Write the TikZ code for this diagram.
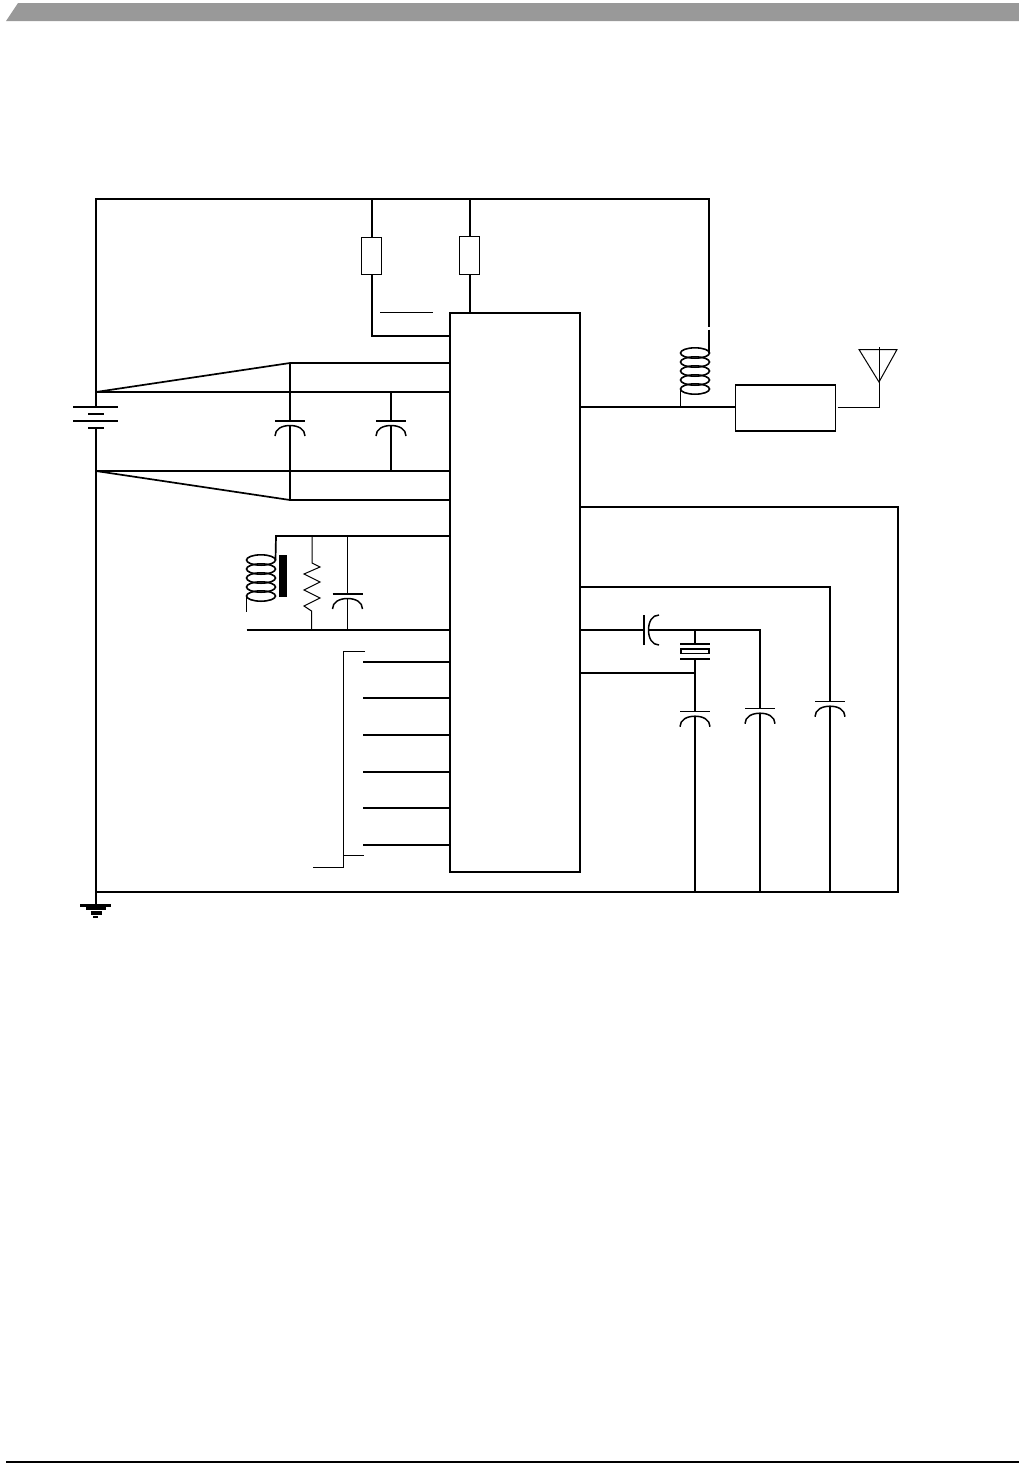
\documentclass[tikz,border=0pt]{standalone}
\usepackage{amsmath, amsthm, amssymb}
\usepackage{color}
\definecolor{bannerGray}{HTML}{999999}
\tikzset{
  capPic/.pic={
    \draw[line width=1.5pt] (-15,0) -- (15,0);
    \draw[line width=1.5pt] (-15,15) .. controls (-15,8) and (-8,4.5) .. (0,4.5) .. controls (8,4.5) and (15,8) .. (15,15);
    \coordinate (-top) at (0,0);
    \coordinate (-bot) at (0,4.5);
  },
  coilPic/.pic={
    \foreach \yy in {0,9,18,27,36} \draw[line width=1.6pt] (0,\yy) ellipse (14.5 and 5.2);
    \coordinate (-up) at (14.5,0);
    \coordinate (-low) at (-14.5,36);
  }
}
\begin{document}
\begin{tikzpicture}[x=1pt,y=-1pt]
\tikzstyle{wireStyle}=[line width=1.7pt]
\tikzstyle{thinStyle}=[line width=1pt]
\tikzstyle{boxStyle}=[shape=rectangle, draw, line width=1pt, inner sep=0pt]
\useasboundingbox (0,0) rectangle (1019,1470);
\fill[bannerGray] (6,21) -- (18,3) -- (1019,3) -- (1019,21) -- cycle;
\coordinate (footL) at (6,1462);
\coordinate (footR) at (1019,1462);
\draw[line width=1.2pt] (footL) -- (footR);
% main parts
\node[boxStyle, line width=1.7pt, minimum width=130pt, minimum height=559pt] (ic) at (515,592.5) {};
\node[boxStyle, minimum width=20pt, minimum height=37pt] (r1) at (371,255.5) {};
\node[boxStyle, minimum width=20pt, minimum height=38pt] (r2) at (469,255) {};
\node[boxStyle, line width=1.2pt, minimum width=100.5pt, minimum height=46pt] (filter) at (785.5,408) {};
\node[shape=rectangle, fill, inner sep=0pt, minimum width=8pt, minimum height=42pt] (core) at (283,576) {};
\node[shape=rectangle, draw, line width=1.5pt, inner sep=0pt, minimum width=28pt, minimum height=4.5pt] (xtal) at (695,651) {};
% rails and corners
\coordinate (tl) at (96,199);
\coordinate (tr1) at (372,199);
\coordinate (tr2) at (470,199);
\coordinate (tr) at (709,199);
\coordinate (batTop) at (96,407);
\coordinate (batBot) at (96,428);
\coordinate (bl) at (96,892);
\coordinate (br) at (898,892);
\coordinate (gnd) at (96,905);
\coordinate (vA) at (96,392);
\coordinate (vB) at (96,471);
\coordinate (fA) at (290,363);
\coordinate (fB) at (290,392);
\coordinate (fC) at (290,471);
\coordinate (fD) at (290,500);
\coordinate (gA) at (391,392);
\coordinate (gB) at (391,471);
% pins of the chip
\coordinate (pA) at (450,363);
\coordinate (pB) at (450,392);
\coordinate (pC) at (450,471);
\coordinate (pD) at (450,500);
\coordinate (pE) at (450,536);
\coordinate (pF) at (450,630);
\coordinate (pG) at (450,336);
\coordinate (qA) at (580,407);
\coordinate (qB) at (580,507);
\coordinate (qC) at (580,587);
\coordinate (qD) at (580,630);
\coordinate (qE) at (580,673);
% rails
\draw[wireStyle] (bl) -- (br) -- (898,507) -- (qB);
\draw[wireStyle] (gnd) -- (batBot);
\draw[wireStyle] (batTop) -- (tl) -- (tr) -- (709,327);
\draw[wireStyle] (709,329.5) -- (709,353);
\draw[wireStyle] (vA) -- (pB);
\draw[wireStyle] (vB) -- (pC);
\draw[wireStyle] (vA) -- (fA) -- (pA);
\draw[wireStyle] (vB) -- (fD) -- (pD);
% top resistors
\draw[wireStyle] (tr1) -- (372,237);
\draw[wireStyle] (372,274) -- (372,336) -- (pG);
\draw[wireStyle] (tr2) -- (470,236);
\draw[wireStyle] (470,274) -- (470,313);
\coordinate (barA) at (380,312);
\coordinate (barB) at (433,312);
\draw[thinStyle] (barA) -- (barB);
% battery
\coordinate (bat1a) at (73,406.7);
\coordinate (bat1b) at (118,406.7);
\coordinate (bat2a) at (88,414);
\coordinate (bat2b) at (104,414);
\coordinate (bat3a) at (73,420.7);
\coordinate (bat3b) at (118,420.7);
\coordinate (bat4a) at (88,428);
\coordinate (bat4b) at (104,428);
\draw[wireStyle] (bat1a) -- (bat1b);
\draw[wireStyle] (bat2a) -- (bat2b);
\draw[wireStyle] (bat3a) -- (bat3b);
\draw[wireStyle] (bat4a) -- (bat4b);
% capacitors
\pic (c1) at (290,421) {capPic};
\pic (c2) at (391,421) {capPic};
\pic (c3) at (347.5,594) {capPic};
\pic (c4) at (695,711.7) {capPic};
\pic (c5) at (760,708.7) {capPic};
\pic (c6) at (830,701.7) {capPic};
\pic[rotate=90] (c7) at (644,630) {capPic};
\draw[wireStyle] (fA) -- (c1-top);
\draw[wireStyle] (c1-bot) -- (fD);
\draw[wireStyle] (gA) -- (c2-top);
\draw[wireStyle] (c2-bot) -- (gB);
% tank circuit
\pic (lA) at (261,560) {coilPic};
\pic (lB) at (695,353) {coilPic};
\coordinate (tank) at (276,536);
\coordinate (tankOut) at (246.5,630);
\coordinate (leadA) at (246.5,612);
\coordinate (capTop) at (347.5,536);
\coordinate (capBot) at (347.5,630);
\draw[wireStyle] (lA-up) -- (tank) -- (pE);
\draw[wireStyle] (lA-low) -- (leadA);
\draw[wireStyle] (tankOut) -- (pF);
\draw[wireStyle] (capTop) -- (c3-top);
\draw[wireStyle] (c3-bot) -- (capBot);
\coordinate (rTop) at (312,536);
\coordinate (rBot) at (311.5,630);
\draw[thinStyle] (rTop) -- (312,563) -- (320,567) -- (304,574) -- (320,582) -- (304,590) -- (320,598) -- (304,606) -- (311.5,611) -- (rBot);
% output side
\coordinate (outA) at (681,407);
\coordinate (fOut) at (837.5,407);
\coordinate (antA) at (879,407);
\coordinate (antB) at (879,347);
\coordinate (antC) at (879,382);
\coordinate (antL) at (859,349.5);
\coordinate (antR) at (897,349.5);
\draw[wireStyle] (qA) -- (qA -| filter.west);
\draw[wireStyle] (lB-low) -- (lB-low |- outA);
\draw[thinStyle] (fOut) -- (antA) -- (antB);
\draw[thinStyle] (antL) -- (antR) -- (antC) -- cycle;
% crystal part
\coordinate (xA) at (695,630);
\coordinate (xB) at (760,630);
\coordinate (xC) at (695,644);
\coordinate (xD) at (695,659);
\coordinate (xE) at (695,673);
\coordinate (xPlateA) at (680,644);
\coordinate (xPlateB) at (710,644);
\coordinate (xPlateC) at (680,659);
\coordinate (xPlateD) at (710,659);
\coordinate (k4) at (695,892);
\coordinate (k5) at (760,892);
\coordinate (k6) at (830,892);
\draw[wireStyle] (qD) -- (c7-top);
\draw[wireStyle] (c7-bot) -- (xB) -- (c5-top);
\draw[wireStyle] (c5-bot) -- (k5);
\draw[wireStyle] (xA) -- (xC);
\draw[wireStyle] (xPlateA) -- (xPlateB);
\draw[wireStyle] (xPlateC) -- (xPlateD);
\draw[wireStyle] (xD) -- (c4-top);
\draw[wireStyle] (c4-bot) -- (k4);
\draw[wireStyle] (qE) -- (xE);
\draw[wireStyle] (qC) -- (830,587) -- (c6-top);
\draw[wireStyle] (c6-bot) -- (k6);
% digital pins
\foreach \py/\pn in {662/a,698/b,735/c,772/d,808/e,845/f} {
  \coordinate (pin\pn) at (363,\py);
  \coordinate (chip\pn) at (450,\py);
  \draw[wireStyle] (pin\pn) -- (chip\pn);
}
\coordinate (busA) at (365,651);
\coordinate (busB) at (343,651);
\coordinate (busC) at (343,867);
\coordinate (busD) at (313,867);
\coordinate (busE) at (343,855.5);
\coordinate (busF) at (364,855.5);
\draw[thinStyle] (busA) -- (busB) -- (busC) -- (busD);
\draw[thinStyle] (busE) -- (busF);
% ground symbol
\coordinate (g1a) at (80,905.5);
\coordinate (g1b) at (111,905.5);
\coordinate (g2a) at (86,908.5);
\coordinate (g2b) at (106,908.5);
\coordinate (g3a) at (90.5,912.5);
\coordinate (g3b) at (101.5,912.5);
\coordinate (g4a) at (93,916.5);
\coordinate (g4b) at (98,916.5);
\draw[line width=2.5pt] (g1a) -- (g1b);
\draw[line width=3.5pt] (g2a) -- (g2b);
\draw[line width=4pt] (g3a) -- (g3b);
\draw[line width=2pt] (g4a) -- (g4b);
\end{tikzpicture}
\end{document}
